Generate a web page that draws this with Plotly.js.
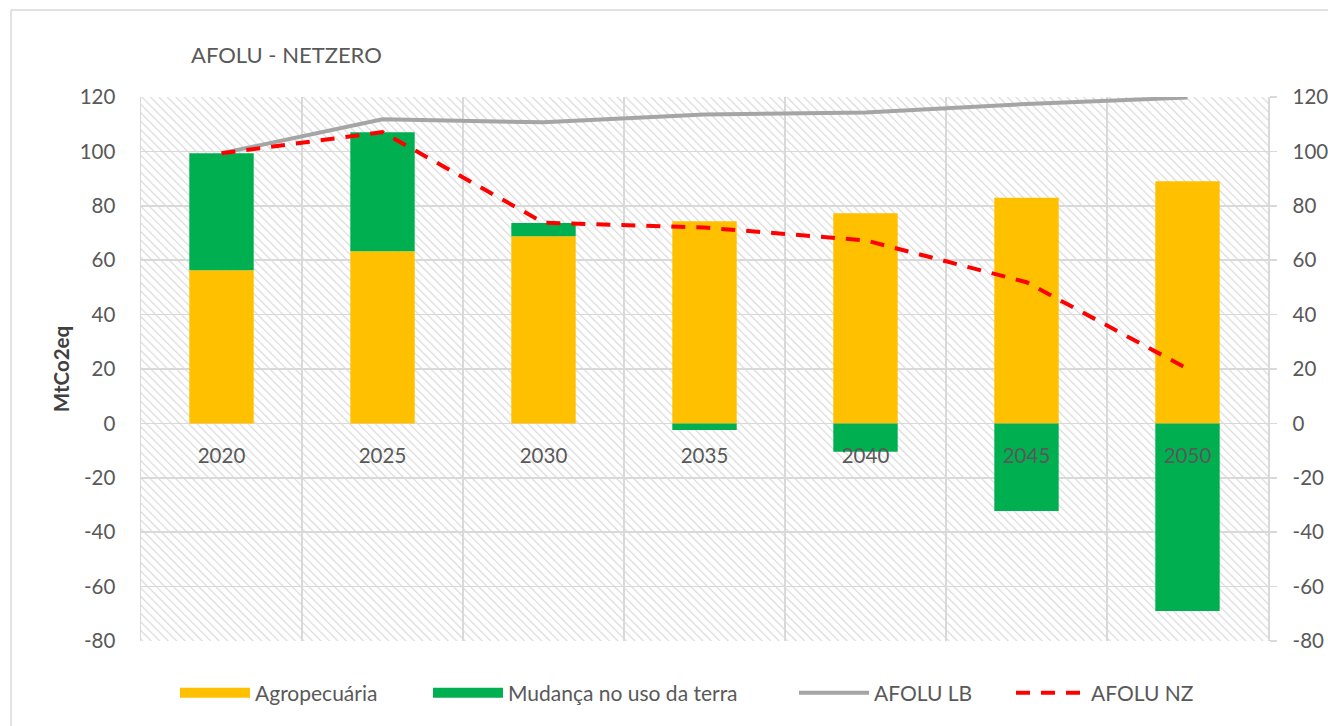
<!DOCTYPE html>
<html>
<head>
<meta charset="utf-8">
<script src="https://cdn.plot.ly/plotly-3.0.1.min.js"></script>
<style>
  html, body { margin: 0; padding: 0; background: #ffffff; }
  #chart { width: 1328px; height: 726px; }
</style>
</head>
<body>
<div id="chart"></div>
<script>
// ---- data ----
const years = ['2020', '2025', '2030', '2035', '2040', '2045', '2050'];
const agropecuaria = [56.3, 63.3, 68.8, 74.3, 77.3, 83.0, 89.0];
const mudancaUsoTerra = [43.0, 43.7, 4.9, -2.4, -10.4, -32.2, -69.0];
const afoluLB = [99.3, 111.8, 110.7, 113.6, 114.3, 117.4, 119.8];
const afoluNZ = [99.3, 107.1, 73.8, 72.0, 67.3, 51.9, 20.1];
const yTicks = [-80, -60, -40, -20, 0, 20, 40, 60, 80, 100, 120];
const yTickLabels = ['-80', '-60', '-40', '-20', '0', '20', '40', '60', '80', '100', '120'];

const FONT = 'Lato, "Open Sans", sans-serif';
const GRID = '#d9d9d9';
const TXT = '#595959';
const AGRO_COLOR = '#FFC000';
const LUC_COLOR = '#00B050';

// hatch pattern for the plot background
const hatchSvg =
  '<svg xmlns="http://www.w3.org/2000/svg" width="1127" height="544">' +
  '<defs><pattern id="h" width="6" height="6" patternUnits="userSpaceOnUse" patternTransform="rotate(-45)">' +
  '<rect width="6" height="6" fill="#ffffff"/>' +
  '<line x1="0" y1="0" x2="0" y2="6" stroke="#dadada" stroke-width="2.4"/></pattern></defs>' +
  '<rect width="1127" height="544" fill="url(#h)"/></svg>';
const hatchUrl = 'data:image/svg+xml;charset=utf-8,' + encodeURIComponent(hatchSvg);

const traces = [
  {
    type: 'bar', name: 'Agropecuária', x: years, y: agropecuaria,
    marker: { color: AGRO_COLOR }, width: 0.4, showlegend: false
  },
  {
    type: 'bar', name: 'Mudança no uso da terra', x: years, y: mudancaUsoTerra,
    marker: { color: LUC_COLOR }, width: 0.4, showlegend: false
  },
  {
    type: 'scatter', mode: 'lines', name: 'AFOLU LB', x: years, y: afoluLB,
    line: { color: '#A5A5A5', width: 4 }, legend: 'legend3'
  },
  {
    type: 'scatter', mode: 'lines', name: 'AFOLU NZ', x: years, y: afoluNZ,
    line: { color: '#FF0000', width: 4, dash: '14px,11px' }, legend: 'legend4'
  },
  // legend swatches for the two bar series (wide rectangles, as in the reference)
  {
    type: 'scatter', mode: 'lines', name: 'Agropecuária', x: [null], y: [null],
    line: { color: AGRO_COLOR, width: 14 }, legend: 'legend'
  },
  {
    type: 'scatter', mode: 'lines', name: 'Mudança no uso da terra', x: [null], y: [null],
    line: { color: LUC_COLOR, width: 14 }, legend: 'legend2'
  },
  {
    type: 'scatter', mode: 'lines', x: years, y: afoluLB, yaxis: 'y2',
    showlegend: false, hoverinfo: 'skip', line: { width: 0, color: 'rgba(0,0,0,0)' }
  }
];

function legendAt(px) {
  return {
    orientation: 'h',
    xref: 'container', yref: 'container',
    x: px / 1328, xanchor: 'left',
    y: 1 - 693 / 726, yanchor: 'middle',
    font: { family: FONT, size: 21, color: TXT },
    itemwidth: 70,
    bgcolor: 'rgba(0,0,0,0)'
  };
}

const layout = {
  width: 1328, height: 726,
  margin: { l: 141, r: 60, t: 97, b: 85 },
  paper_bgcolor: '#ffffff',
  plot_bgcolor: 'rgba(0,0,0,0)',
  barmode: 'relative',
  font: { family: FONT, color: TXT, size: 18 },
  title: {
    text: 'AFOLU - NETZERO',
    font: { family: FONT, size: 22, color: TXT },
    xref: 'container', yref: 'container',
    x: 191 / 1328, xanchor: 'left',
    y: 1 - 55 / 726, yanchor: 'middle'
  },
  xaxis: {
    type: 'category',
    categoryorder: 'array', categoryarray: years,
    range: [-0.5, 6.5],
    tickson: 'boundaries',
    showgrid: true, gridcolor: GRID, gridwidth: 1.5,
    zeroline: false, showline: false,
    anchor: 'free', position: 218 / 544,
    ticks: '', ticklabelstandoff: 18,
    tickfont: { family: FONT, size: 20.5, color: TXT },
    fixedrange: true
  },
  yaxis: {
    range: [-80, 120], tickmode: 'array', tickvals: yTicks, ticktext: yTickLabels,
    showgrid: true, gridcolor: GRID, gridwidth: 1.5,
    zeroline: true, zerolinecolor: GRID, zerolinewidth: 1.5,
    showline: true, linecolor: GRID, linewidth: 1.5,
    ticks: 'outside', ticklen: 20, tickcolor: 'rgba(0,0,0,0)',
    tickfont: { family: FONT, size: 20.5, color: TXT },
    title: {
      text: '<b>MtCo2eq</b>',
      font: { family: FONT, size: 20.5, color: '#404040' },
      standoff: 4
    },
    fixedrange: true
  },
  yaxis2: {
    overlaying: 'y', side: 'right', anchor: 'x',
    range: [-80, 120], tickmode: 'array', tickvals: yTicks, ticktext: yTickLabels,
    showgrid: false, zeroline: false,
    showline: true, linecolor: GRID, linewidth: 1.5,
    ticks: 'outside', ticklen: 7, tickcolor: GRID, tickwidth: 1.5,
    ticklabelstandoff: 12,
    tickfont: { family: FONT, size: 20.5, color: TXT },
    fixedrange: true
  },
  images: [{
    source: hatchUrl, xref: 'paper', yref: 'paper',
    x: 0, y: 1, sizex: 1, sizey: 1, sizing: 'stretch',
    xanchor: 'left', yanchor: 'top', layer: 'below'
  }],
  shapes: [
    { type: 'line', xref: 'paper', yref: 'paper',
      x0: (11 - 141) / 1127, x1: (1328 - 141) / 1127,
      y0: (641 - 10) / 544, y1: (641 - 10) / 544,
      line: { color: GRID, width: 1.5 } },
    { type: 'line', xref: 'paper', yref: 'paper',
      x0: (11 - 141) / 1127, x1: (11 - 141) / 1127,
      y0: (641 - 10) / 544, y1: (641 - 730) / 544,
      line: { color: GRID, width: 1.5 } }
  ],
  legend: legendAt(175),
  legend2: legendAt(428),
  legend3: legendAt(794),
  legend4: legendAt(1011),
  showlegend: true,
  hovermode: false
};

Plotly.newPlot('chart', traces, layout, { displayModeBar: false, staticPlot: true });
</script>
</body>
</html>
